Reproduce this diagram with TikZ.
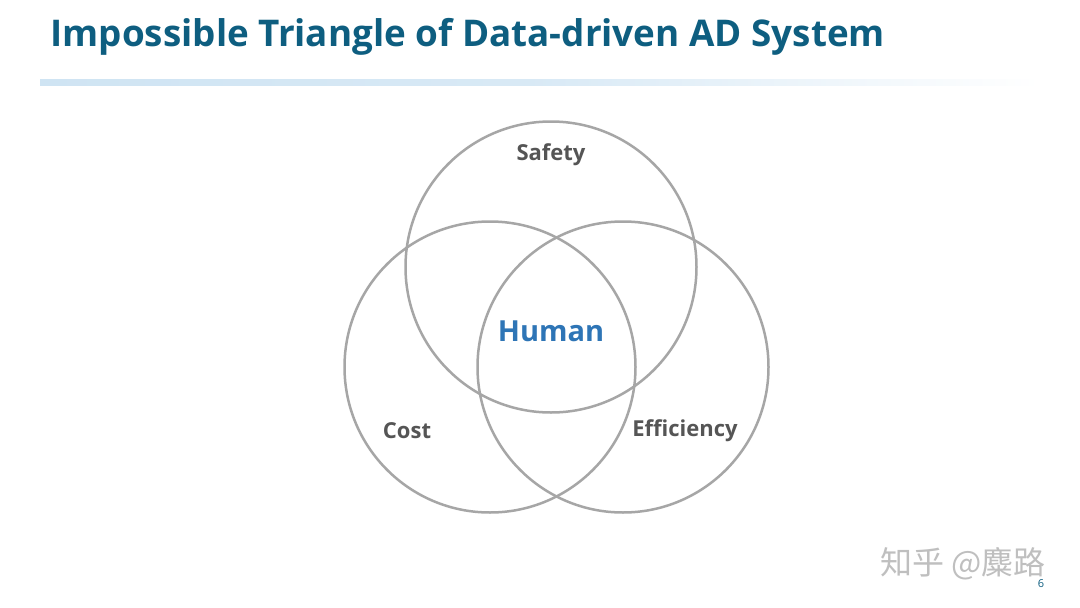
\documentclass[tikz,border=0pt]{standalone}
\usepackage{fontspec}
\setmainfont{Open Sans}
\newfontfamily\cjkfont{Noto Sans CJK SC}
\usetikzlibrary{positioning}
\definecolor{titleblue}{HTML}{0E5E80}
\definecolor{humanblue}{HTML}{2E75B6}
\definecolor{ringgray}{HTML}{A6A6A6}
\definecolor{labelgray}{HTML}{555555}
\definecolor{barblue}{HTML}{CFE4F3}

\begin{document}
\begin{tikzpicture}[x=1pt, y=-1pt,
		ring/.style={draw=ringgray, line width=2.5pt, circle, minimum size=291pt, inner sep=0pt},
		tag/.style={font=\fontsize{22}{25}\selectfont\bfseries, text=labelgray}]
		\useasboundingbox[fill=white] (0,0) rectangle (1080,608);

		\node[anchor=west, font=\fontsize{36.8}{42}\selectfont\bfseries, text=titleblue] (title) at (47,37) {Impossible Triangle of Data-driven AD System};
		\shade[left color=barblue, right color=white, middle color=barblue!80] (40,79) rectangle (1040,85);

		\node[ring] (safety) at (551,267) {};
		\node[ring] (cost) at (490,367) {};
		\node[ring] (eff) at (623,367) {};

		\node[tag] (safetytxt) at (551,155) {Safety};
		\node[tag] (costtxt) at (407,431) {Cost};
		\node[tag] (efftxt) at (685,431) {Efficiency};
		\node[font=\fontsize{29}{32}\selectfont\bfseries, text=humanblue] (human) at (551,331) {Human};

		\node[font=\cjkfont\fontsize{32}{36}\selectfont, text=black!25, inner sep=0pt] (mark) at (963,564) {知乎 @麋路};
		\node[font=\fontsize{11}{12}\selectfont, text=titleblue, inner sep=0pt] (page) at (1041,584) {6};
	\end{tikzpicture}
\end{document}
